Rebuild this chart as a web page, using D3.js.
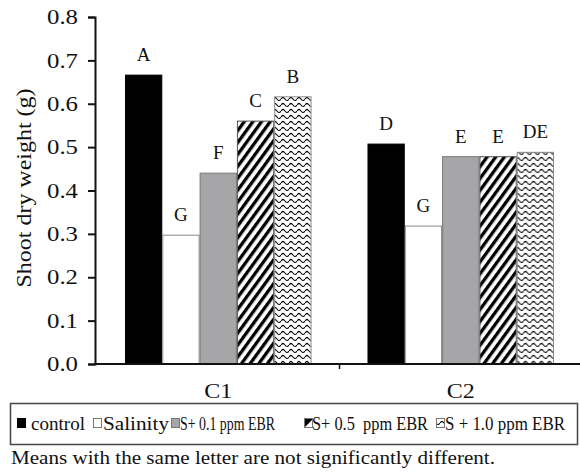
<!DOCTYPE html>
<html><head><meta charset="utf-8">
<script src="https://cdn.jsdelivr.net/npm/d3@7/dist/d3.min.js"></script>
<style>
html,body{margin:0;padding:0;background:#fff;}
</style></head>
<body><svg id="chart" width="580" height="474"></svg>
<script>
const categories = ["C1", "C2"];
const series = ["control", "Salinity", "S+ 0.1 ppm EBR", "S+ 0.5  ppm EBR", "S + 1.0 ppm EBR"];
const valuesC1 = [0.666, 0.297, 0.440, 0.560, 0.616];
const valuesC2 = [0.507, 0.318, 0.478, 0.478, 0.488];
const lettersC1 = ["A", "G", "F", "C", "B"];
const lettersC2 = ["D", "G", "E", "E", "DE"];
const yTicks = [0, 0.1, 0.2, 0.3, 0.4, 0.5, 0.6, 0.7, 0.8];
const yLabel = "Shoot dry weight (g)";
const caption = "Means with the same letter are not significantly different.";

const FONT = "'Liberation Serif', 'Times New Roman', serif";
const svg = d3.select("#chart").attr("font-family", FONT);
const defs = svg.append("defs");

// patterns
const hatch = defs.append("pattern").attr("id","hatch").attr("patternUnits","userSpaceOnUse")
  .attr("width",7).attr("height",7).attr("patternTransform","rotate(36)");
hatch.append("rect").attr("width",7).attr("height",7).attr("fill","#fff");
hatch.append("rect").attr("x",0).attr("y",0).attr("width",3.3).attr("height",7).attr("fill","#000");

const wave = defs.append("pattern").attr("id","wave").attr("patternUnits","userSpaceOnUse")
  .attr("width",8).attr("height",6);
wave.append("rect").attr("width",8).attr("height",6).attr("fill","#fff");
wave.append("path").attr("d","M0,3 Q2,0 4,3 T8,3").attr("fill","none").attr("stroke","#000").attr("stroke-width",1.1);
wave.append("circle").attr("cx",2).attr("cy",1.6).attr("r",0.9).attr("fill","#000");

const fills = ["#000", "#fff", "#a6a6a8", "url(#hatch)", "url(#wave)"];
const strokes = ["#000", "#8a8a8a", "#7a7a7a", "#555", "#888"];

const x0 = d3.scaleBand().domain(categories).range([97, 582]).paddingInner(0).paddingOuter(0);
const x1 = d3.scaleBand().domain(series).range([0, x0.bandwidth()]).paddingInner(0).paddingOuter(0.75);
const y = d3.scaleLinear().domain([0, 0.8]).range([364, 17]);

const data = categories.map((c, i) => ({
  cat: c,
  vals: (i === 0 ? valuesC1 : valuesC2).map((v, j) => ({ s: series[j], v: v, j: j, letter: (i === 0 ? lettersC1 : lettersC2)[j] }))
}));

function txt(sel, size) {
  return sel.style("font-family", FONT).style("font-size", size + "px").attr("fill", "#111");
}

const groups = svg.selectAll("g.grp").data(data).enter().append("g")
  .attr("class","grp").attr("transform", d => `translate(${x0(d.cat)},0)`);
groups.selectAll("rect").data(d => d.vals).enter().append("rect")
  .attr("x", d => x1(d.s) + 0.5)
  .attr("y", d => y(d.v))
  .attr("width", x1.bandwidth() - 1)
  .attr("height", d => y(0) - y(d.v))
  .attr("fill", d => fills[d.j])
  .attr("stroke", d => strokes[d.j])
  .attr("stroke-width", 1);
txt(groups.selectAll("text.let").data(d => d.vals).enter().append("text")
  .attr("class","let")
  .attr("x", d => x1(d.s) + x1.bandwidth() / 2)
  .attr("y", d => y(d.v) - 14)
  .attr("text-anchor","middle"), 19)
  .text(d => d.letter);

// y axis
const yAxis = svg.append("g").attr("transform","translate(95,0)")
  .call(d3.axisLeft(y).tickValues(yTicks).tickFormat(d3.format(".1f")).tickSize(7).tickPadding(10));
yAxis.attr("font-family", FONT);
yAxis.select(".domain").attr("stroke","#111").attr("stroke-width",2);
yAxis.selectAll(".tick line").attr("stroke","#111").attr("stroke-width",2);
txt(yAxis.selectAll(".tick text"), 21)
  .attr("textLength",31).attr("lengthAdjust","spacingAndGlyphs");

// x axis
const xAxis = svg.append("g").attr("transform","translate(0,364)")
  .call(d3.axisBottom(x0).tickSize(0).tickPadding(20));
xAxis.attr("font-family", FONT);
xAxis.select(".domain").remove();
txt(xAxis.selectAll(".tick text"), 20)
  .attr("textLength",28).attr("lengthAdjust","spacingAndGlyphs");
svg.append("line").attr("x1",94).attr("x2",580).attr("y1",364).attr("y2",364)
  .attr("stroke","#111").attr("stroke-width",2);
svg.append("line").attr("x1",x0("C2")).attr("x2",x0("C2")).attr("y1",364).attr("y2",369)
  .attr("stroke","#111").attr("stroke-width",1.5);

// y label
txt(svg.append("text").attr("transform","translate(31,188) rotate(-90)")
  .attr("text-anchor","middle"), 21)
  .attr("textLength",199).attr("lengthAdjust","spacingAndGlyphs")
  .text(yLabel);

// legend
svg.append("rect").attr("x",10.5).attr("y",403.5).attr("width",567).attr("height",41)
  .attr("fill","none").attr("stroke","#444").attr("stroke-width",1.5);
const legX = [17, 93, 171, 304, 436];
const legTX = [31, 103, 180, 312, 445];
const legW = [54, 66, 95, 116, 120];
const leg = svg.append("g");
series.forEach((s, j) => {
  leg.append("rect").attr("x", legX[j] + 0.5).attr("y", 418.5).attr("width", 8).attr("height", 9)
    .attr("fill", fills[j] === "url(#hatch)" ? "#000" : fills[j]).attr("stroke", j === 0 ? "#000" : "#777").attr("stroke-width",1);
  if (j === 3) {
    leg.append("path").attr("d", `M${legX[j]+1},${427} L${legX[j]+8},${420} L${legX[j]+8},${427} Z`).attr("fill","#fff");
  }
  if (j === 4) {
    leg.append("rect").attr("x", legX[j] + 1).attr("y", 419).attr("width", 7).attr("height", 8).attr("fill","url(#wave)");
  }
  txt(leg.append("text").attr("x", legTX[j]).attr("y", 430), 19)
    .style("white-space","pre")
    .attr("textLength", legW[j]).attr("lengthAdjust","spacingAndGlyphs")
    .text(s);
});

txt(svg.append("text").attr("x",11).attr("y",464), 19)
  .attr("textLength",484).attr("lengthAdjust","spacingAndGlyphs").text(caption);
</script></body></html>
